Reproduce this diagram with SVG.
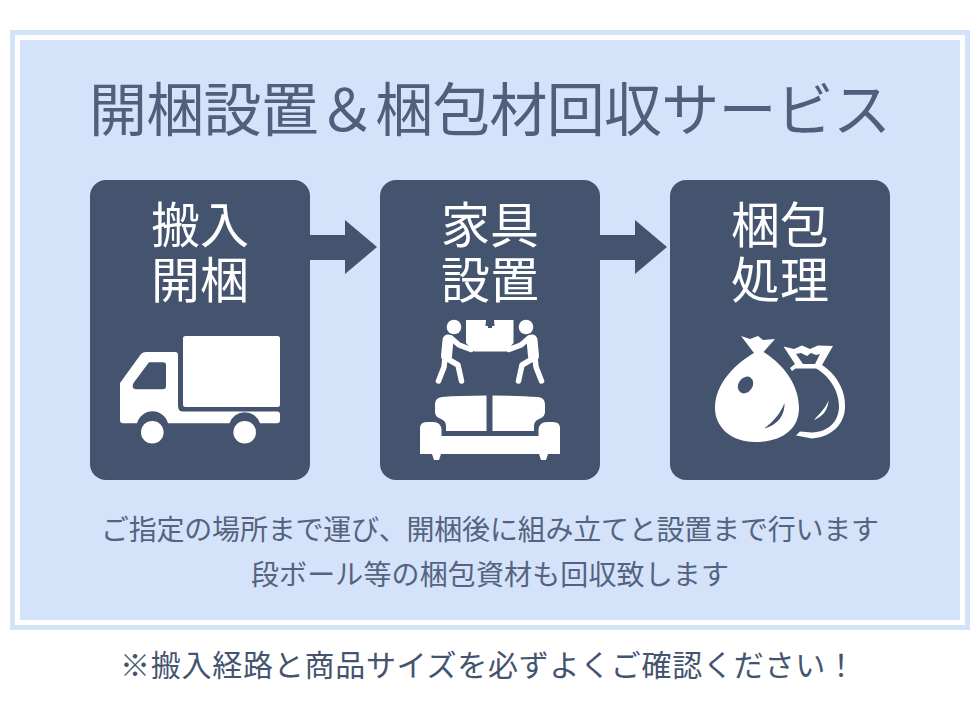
<svg xmlns="http://www.w3.org/2000/svg" width="980" height="720" viewBox="0 0 980 720">
<style>
text{font-family:"Noto Sans CJK JP","Noto Sans",sans-serif;text-anchor:middle}
.card{fill:#44546f}
.label{fill:#fff;font-size:49px}
.sub{fill:#54637f;font-size:28px}
.w{fill:#fff}
.limb{fill:none;stroke:#fff;stroke-width:5.500;stroke-linecap:round;stroke-linejoin:round}
.torso{fill:none;stroke:#fff;stroke-width:11;stroke-linecap:round;stroke-linejoin:round}
.arrow{fill:#44546f}
</style>
<rect width="980" height="720" fill="#fff"/>
<rect x="12.5" y="32.5" width="955" height="595" fill="none" stroke="#d5e3fa" stroke-width="5"/>
<rect x="20" y="40" width="940" height="580" fill="#d5e3fa"/>
<text x="490" y="131" font-size="58" fill="#4f5f7c" textLength="802" lengthAdjust="spacing">開梱設置＆梱包材回収サービス</text>
<g id="connectors">
<path class="arrow" d="M310 235H345V220L377 247L345 274V260H310Z"/>
<path class="arrow" d="M600 235H635V220L667 247L635 274V260H600Z"/>
</g>
<g id="node-1">
<rect class="card" x="90" y="180" width="220" height="300" rx="16"/>
<text class="label" x="200" y="243">搬入</text>
<text class="label" x="200" y="298">開梱</text>
<rect class="w" x="183" y="336" width="97" height="71" rx="2.5"/>
<path class="w" fill-rule="evenodd" d="M120 383L141 354Q143 352 146 352H175Q178 352 178 355V406Q178 411.500 183 411.500H277Q280 411.500 280 414.500V420Q280 423.300 277 423.300H260A16 16 0 0 0 229.500 423.300H168A16 16 0 0 0 137 423.300H123Q120 423.300 120 420ZM149 362.300L133.500 383Q131 388.500 136 389.300H163Q166 389.300 166 386V365Q166 362.300 163 362.300Z"/>
<circle class="w" cx="152.300" cy="432.300" r="11.300"/>
<circle class="w" cx="244.700" cy="432.300" r="11.300"/>
</g>
<g id="node-2">
<rect class="card" x="380" y="180" width="220" height="300" rx="16"/>
<text class="label" x="490" y="243">家具</text>
<text class="label" x="490" y="298">設置</text>
<path class="w" d="M466 320H486L485.500 326H488V328H492V326H494.500L494 320H513.500V343L506.500 351.500H474L466 343Z"/>
<circle class="w" cx="454" cy="327" r="7.300"/>
<circle class="w" cx="526" cy="327" r="7.300"/>
<path class="torso" d="M448 340L446.500 356"/>
<path class="torso" d="M532 340L533.500 356"/>
<path class="limb" d="M451 338L459 345L471 349.500"/>
<path class="limb" d="M529 338L521 345L509 349.500"/>
<path class="limb" d="M445 358L444 367L438.500 381"/>
<path class="limb" d="M535 358L536 367L541.500 381"/>
<path class="limb" d="M446 358L458 365L461.500 381"/>
<path class="limb" d="M534 358L522 365L518.500 381"/>
<path class="w" d="M435 404Q435 398 442 397Q460 395.500 486.500 395.500V431H446V426Q446 421 441 419Q435 417 435 412Z"/>
<path class="w" d="M545 404Q545 398 538 397Q520 395.500 492.500 395.500V431H534V426Q534 421 539 419Q545 417 545 412Z"/>
<path class="w" d="M420 428Q420 422 427 422H433Q441 422 441.500 430V436H538.500V430Q539 422 547 422H553Q560 422 560 428V454H548L546 460H541L539 454H441L439 460H434L432 454H420Z"/>
</g>
<g id="node-3">
<rect class="card" x="670" y="180" width="220" height="300" rx="16"/>
<text class="label" x="780" y="243">梱包</text>
<text class="label" x="780" y="298">処理</text>
<path class="w" fill-rule="evenodd" d="M783.500 346.500L794 349L802 345.500L810 349L818 345.500L833 346L822 365C836 374 846 390 845 408C844 426 830 437 812 438.500L796 435.500L800 431.500L812 432.500C828 432 839 422 839 406C839 390 828 375 816 368.500H795.500L792 371L790 368L795 364ZM796 354L803 364H815L820 354L816 355L811 353L807 356L801 353Z"/>
<path class="w" d="M828.500 400C828 412 821 417 814 420C819 414 826 408 828.500 400Z"/>
<path d="M741 336L750 339L758 336L763 340L775 339L763.500 352C780 362 799 382 799 408C799 430 781 442 755 442C731 442 715 427 715 408C715 382 738 362 754 353Z" fill="#fff"/>
<ellipse cx="745.500" cy="385" rx="7" ry="9" transform="rotate(35 745.500 385)" fill="#44546f"/>
<path d="M784.500 403C785 415 778 425 764 428.500C774 421 780 414 784.500 403Z" fill="#44546f"/>
</g>
<text class="sub" x="490" y="540" textLength="778" lengthAdjust="spacing">ご指定の場所まで運び、開梱後に組み立てと設置まで行います</text>
<text class="sub" x="490" y="585" textLength="478" lengthAdjust="spacing">段ボール等の梱包資材も回収致します</text>
<text x="488" y="676" font-size="30" fill="#44546f" textLength="736" lengthAdjust="spacing">※搬入経路と商品サイズを必ずよくご確認ください！</text>
</svg>
